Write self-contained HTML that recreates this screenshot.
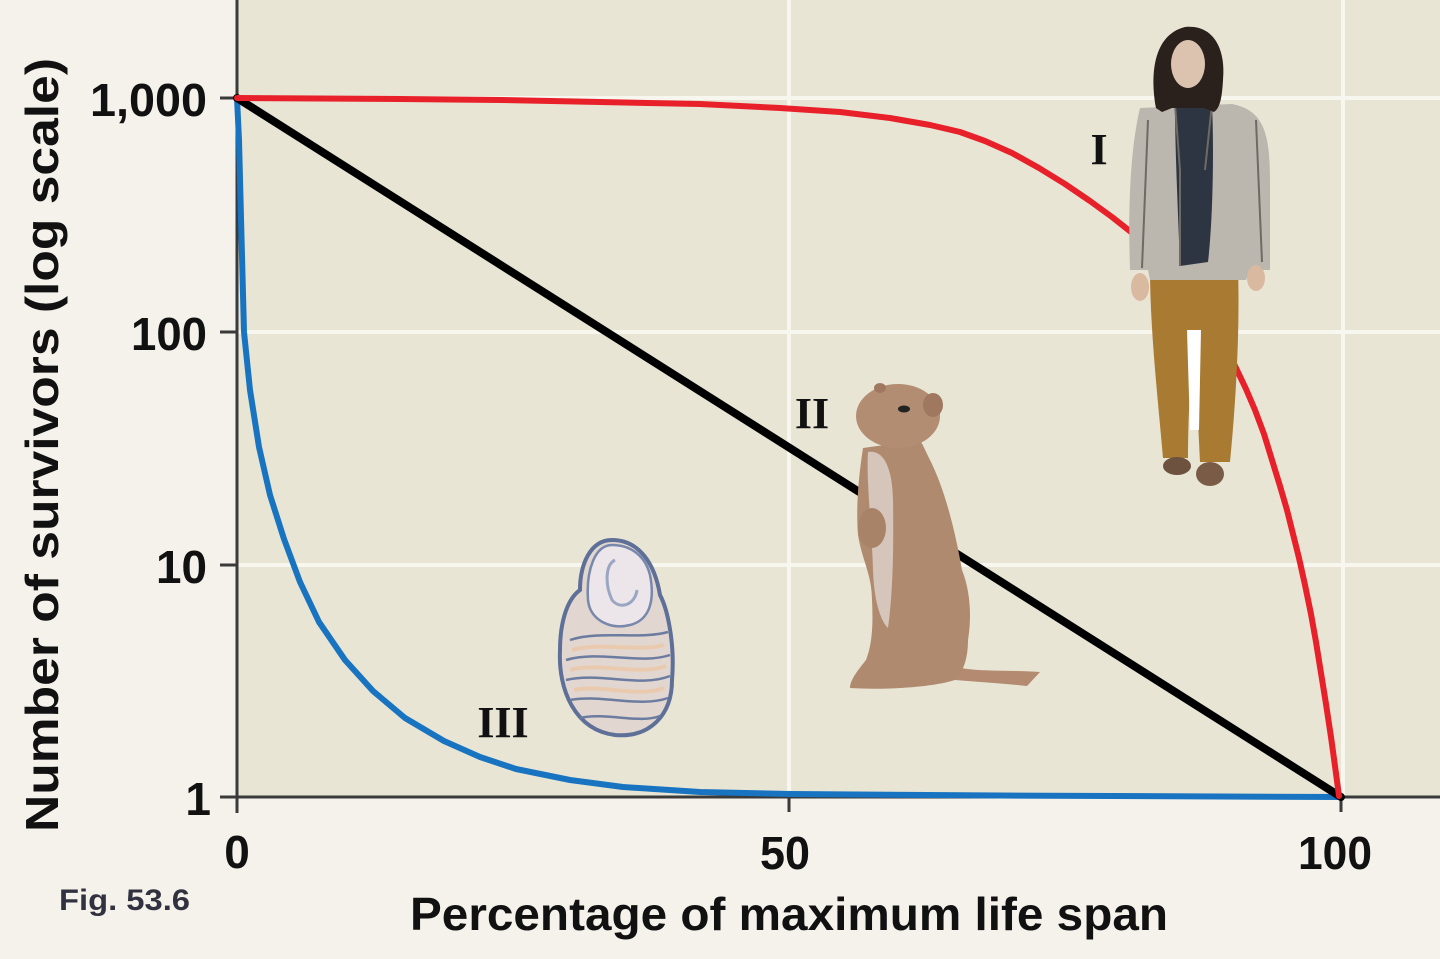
<!DOCTYPE html>
<html>
<head>
<meta charset="utf-8">
<style>
  html,body{margin:0;padding:0;background:#f4f2eb;}
  svg{display:block;}
  .tick{font-family:"Liberation Sans",Arial,sans-serif;font-weight:bold;font-size:46px;fill:#111;}
  .ax{font-family:"Liberation Sans",Arial,sans-serif;font-weight:bold;font-size:46px;fill:#111;}
  .rom{font-family:"Liberation Serif","Times New Roman",serif;font-weight:bold;font-size:44px;fill:#111;}
</style>
</head>
<body>
<svg width="1440" height="959" viewBox="0 0 1440 959" xmlns="http://www.w3.org/2000/svg">
  <!-- backgrounds -->
  <rect x="0" y="0" width="1440" height="959" fill="#f4f2eb"/>
  <rect x="237" y="0" width="1203" height="797" fill="#e8e5d5"/>

  <!-- grid -->
  <g stroke="#f7f6ef" stroke-width="4">
    <line x1="237" y1="98" x2="1440" y2="98"/>
    <line x1="237" y1="332" x2="1440" y2="332"/>
    <line x1="237" y1="565" x2="1440" y2="565"/>
    <line x1="789" y1="0" x2="789" y2="797"/>
    <line x1="1343" y1="0" x2="1343" y2="797"/>
  </g>

  <!-- axes -->
  <g stroke="#3a3a3a" stroke-width="3">
    <line x1="237" y1="0" x2="237" y2="813"/>
    <line x1="220" y1="797" x2="1440" y2="797"/>
    <line x1="220" y1="98" x2="237" y2="98"/>
    <line x1="220" y1="332" x2="237" y2="332"/>
    <line x1="220" y1="565" x2="237" y2="565"/>
    <line x1="789" y1="797" x2="789" y2="812"/>
    <line x1="1341" y1="797" x2="1341" y2="812"/>
  </g>

  <!-- oyster -->
  <g>
    <path d="M612,540 C590,540 580,565 580,590 C566,600 560,625 560,650 C558,690 575,730 615,735 C650,738 672,715 672,680 C675,645 668,610 660,595 C655,565 640,540 612,540 Z" fill="#e2d6d0" stroke="#5e6f98" stroke-width="4"/>
    <path d="M612,545 C595,545 586,570 588,600 C590,620 610,630 630,625 C650,620 655,600 650,575 C645,555 630,545 612,545 Z" fill="#ece6ea" stroke="#7888ac" stroke-width="2.5"/>
    <path d="M615,560 C605,565 605,585 612,600 C620,610 635,605 637,590" fill="none" stroke="#9aa6c2" stroke-width="3"/>
    <g fill="none" stroke="#6b7ca0" stroke-width="2.5">
      <path d="M570,640 C600,630 640,640 668,632"/>
      <path d="M566,660 C600,650 640,665 670,655"/>
      <path d="M566,680 C600,672 640,688 670,676"/>
      <path d="M570,700 C600,694 640,708 668,698"/>
      <path d="M580,718 C605,712 640,724 660,716"/>
    </g>
    <g fill="none" stroke="#ecc8a8" stroke-width="4" opacity="0.8">
      <path d="M572,650 C600,642 640,652 664,645"/>
      <path d="M570,670 C600,662 640,676 666,666"/>
      <path d="M574,690 C600,684 640,698 664,688"/>
    </g>
  </g>

  <!-- curves -->
  <polyline fill="none" stroke="#1874c0" stroke-width="6" stroke-linejoin="round" stroke-linecap="round"
    points="237,98 239,140 241,218 244,332 250,390 259,447 270,495 284,539 300,582 319,622 345,660 373,691 405,718 444,741 480,757 516,769 570,780 623,787 700,792 790,794 1000,795.5 1341,797"/>
  <line x1="237" y1="98" x2="1341" y2="797" stroke="#000" stroke-width="8" stroke-linecap="round"/>
  <polyline fill="none" stroke="#e8202a" stroke-width="6" stroke-linejoin="round" stroke-linecap="round"
    points="237,98 400,99 500,100 600,102 700,104 780,108 840,112 890,118 930,125 960,132 985,141 1012,153 1039,168 1065,184 1090,201 1112,217 1131,232 1149,248 1165,263 1180,279 1193,296 1205,312 1215,330 1226,348 1236,368 1246,389 1255,410 1264,434 1272,460 1280,486 1287,510 1293,534 1299,558 1305,585 1311,614 1316,642 1321,673 1326,704 1331,737 1335,766 1339,796"/>

  <!-- squirrel -->
  <g>
    <path d="M1027,686 C1010,684 980,682 955,680 L960,668 C985,672 1015,670 1040,672 Z" fill="#b48a70"/>
    <path d="M863,448 C858,480 856,510 858,535 C862,560 872,575 872,600 C873,620 873,642 866,660 C858,670 850,680 850,688 C880,690 930,688 955,680 C965,670 968,655 968,640 C972,615 970,590 962,570 C955,530 945,490 930,460 C925,450 923,445 920,440 Z" fill="#b08a6e"/>
    <ellipse cx="898" cy="416" rx="42" ry="32" fill="#b38d72"/>
    <ellipse cx="933" cy="405" rx="10" ry="12" fill="#a07860"/>
    <ellipse cx="880" cy="388" rx="6" ry="5" fill="#a07860"/>
    <ellipse cx="904" cy="409" rx="6" ry="3.5" fill="#222"/>
    <path d="M868,452 C880,450 892,460 893,500 C894,560 892,600 888,628 C880,620 874,600 873,570 C872,530 866,480 868,452 Z" fill="#d6c5ba"/>
    <ellipse cx="872" cy="528" rx="14" ry="20" fill="#a98368"/>
  </g>

  <!-- woman -->
  <g>
    <!-- pants -->
    <path d="M1150,268 L1238,268 C1240,330 1236,400 1230,462 L1200,462 C1198,420 1196,380 1194,345 C1190,380 1188,420 1188,458 L1163,458 C1158,400 1150,330 1150,268 Z" fill="#a87a32"/>
    <path d="M1187,330 L1201,330 L1199,430 L1190,430 Z" fill="#ffffff"/>
    <!-- shoes -->
    <ellipse cx="1177" cy="466" rx="14" ry="9" fill="#6e5240"/>
    <ellipse cx="1210" cy="474" rx="14" ry="12" fill="#7a5c46"/>
    <!-- jacket -->
    <path d="M1140,108 L1232,104 C1262,110 1270,130 1270,180 L1270,270 L1250,270 L1246,280 L1150,280 L1148,270 L1130,270 C1128,210 1130,150 1140,108 Z" fill="#bbb6ae"/>
    <path d="M1175,104 L1212,104 C1214,150 1213,220 1208,262 L1180,266 C1178,210 1175,150 1175,104 Z" fill="#2d3542"/>
    <g fill="none" stroke="#6e6a64" stroke-width="2">
      <path d="M1175,104 L1180,170 L1180,266"/>
      <path d="M1212,104 L1205,170"/>
      <path d="M1148,120 L1142,268"/>
      <path d="M1256,120 L1262,262"/>
    </g>
    <!-- hair -->
    <path d="M1156,108 C1150,75 1153,35 1185,27 C1214,24 1226,50 1223,80 C1222,98 1220,108 1214,112 L1204,108 L1172,108 L1162,112 Z" fill="#2a201c"/>
    <ellipse cx="1188" cy="64" rx="17" ry="24" fill="#dcc3b0"/>
    <!-- hands -->
    <ellipse cx="1140" cy="287" rx="9" ry="14" fill="#d9b9a0"/>
    <ellipse cx="1256" cy="278" rx="9" ry="13" fill="#d9b9a0"/>
  </g>

  <!-- roman labels -->
  <text class="rom" x="1099" y="164" text-anchor="middle">I</text>
  <text class="rom" x="812" y="428" text-anchor="middle">II</text>
  <text class="rom" x="503" y="737" text-anchor="middle">III</text>

  <!-- y tick labels -->
  <text class="tick" x="207" y="116" text-anchor="end" textLength="117" lengthAdjust="spacingAndGlyphs">1,000</text>
  <text class="tick" x="207" y="350" text-anchor="end" textLength="76" lengthAdjust="spacingAndGlyphs">100</text>
  <text class="tick" x="207" y="583" text-anchor="end" textLength="51" lengthAdjust="spacingAndGlyphs">10</text>
  <text class="tick" x="211" y="815" text-anchor="end">1</text>

  <!-- x tick labels -->
  <text class="tick" x="237" y="868" text-anchor="middle">0</text>
  <text class="tick" x="785" y="869" text-anchor="middle" textLength="50" lengthAdjust="spacingAndGlyphs">50</text>
  <text class="tick" x="1335" y="869" text-anchor="middle" textLength="74" lengthAdjust="spacingAndGlyphs">100</text>

  <!-- axis titles -->
  <text class="ax" x="410" y="930" textLength="758" lengthAdjust="spacingAndGlyphs">Percentage of maximum life span</text>
  <text class="ax" transform="translate(58,445) rotate(-90)" x="0" y="0" text-anchor="middle" textLength="774" lengthAdjust="spacingAndGlyphs">Number of survivors (log scale)</text>

  <!-- figure caption -->
  <text x="59" y="910" font-family="'Liberation Sans',Arial,sans-serif" font-size="30" font-weight="bold" fill="#1c1c2c" fill-opacity="0.9" textLength="131" lengthAdjust="spacingAndGlyphs">Fig. 53.6</text>
</svg>
</body>
</html>
